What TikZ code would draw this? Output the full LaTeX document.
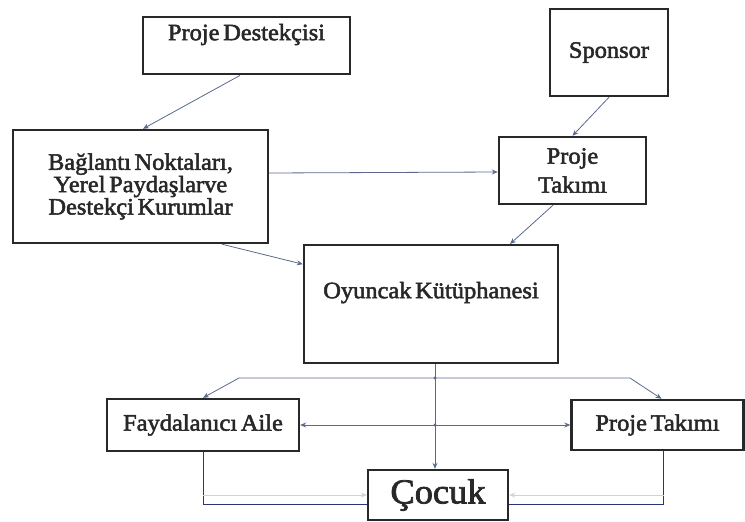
\documentclass[tikz,border=0pt]{standalone}
\usepackage{fontspec}
\setmainfont{Liberation Serif}[FakeStretch=1.04, FakeBold=2.2, WordSpace=0.6]
\usetikzlibrary{arrows.meta}
\definecolor{yazi}{RGB}{40,40,40}
\definecolor{cerceve}{RGB}{40,40,40}
\definecolor{akis}{RGB}{90,105,140}
\definecolor{lacivert}{RGB}{40,52,125}
\definecolor{acik}{RGB}{205,210,220}

\begin{document}
\begin{tikzpicture}[x=1pt, y=-1pt,
    kutu/.style={draw=cerceve, line width=2.4pt, fill=white, text=yazi,
                 font=\fontsize{23.5}{20.5}\selectfont, align=center, inner sep=0pt},
    ok/.style={draw=akis, line width=0.8pt, >={Stealth[length=6pt, width=5pt]}, ->}]
    \useasboundingbox (0,0) rectangle (745,522);

    % Üst kutular
    \node[kutu, minimum width=207pt, minimum height=57pt, text height=23pt,
          text depth=34pt, anchor=north] (destekci) at (246.5,16) {Proje Destekçisi};
    \node[kutu, minimum width=118pt, minimum height=87pt] (sponsor) at (609,52.5) {Sponsor};
    \node[kutu, minimum width=255pt, minimum height=113pt] (baglanti) at (140.5,186.5)
          {Bağlantı Noktaları,\\Yerel Paydaşlarve\\Destekçi Kurumlar};
    \node[kutu, minimum width=147pt, minimum height=67pt,
          font=\fontsize{23.5}{29}\selectfont] (ptakim) at (572.5,170.5) {Proje\\Takımı};

    % Kütüphane
    \node[kutu, minimum width=254pt, minimum height=118pt, text height=53pt,
          text depth=65pt, anchor=north] (oyuncak) at (431,244) {Oyuncak Kütüphanesi};

    % Alt kutular
    \node[kutu, minimum width=192pt, minimum height=52pt] (aile) at (203,425) {Faydalanıcı Aile};
    \node[kutu, minimum width=172pt, minimum height=50pt] (ptakim2) at (657.5,425) {Proje Takımı};
    \node[kutu, minimum width=140pt, minimum height=50pt,
          font=\fontsize{35}{38}\selectfont] (cocuk) at (438,495) {Çocuk};

    % Oklar
    \draw[ok] ([xshift=-6.5pt]destekci.south) -- ([xshift=2.5pt]baglanti.north);
    \draw[ok] (sponsor.south) -- (ptakim.north);
    \draw[ok] ([yshift=13.5pt]baglanti.east) -- ([yshift=-1.5pt]ptakim.west);
    \draw[ok] ([xshift=-19.5pt]ptakim.south) -- ([xshift=79pt]oyuncak.north);
    \draw[ok] ([xshift=81.5pt]baglanti.south) -- ([yshift=40pt]oyuncak.west);

    % Dağıtım hattı
    \coordinate (dik) at ([xshift=4pt]oyuncak.south);
    \coordinate (sol) at (239,378);
    \coordinate (sag) at (630,378);
    \draw[ok, <->] (aile.north) -- (sol) -- (sag) -- ([xshift=4pt]ptakim2.north);
    \draw[ok] (dik) -- (dik |- cocuk.north);
    \draw[ok, <->] (aile.east) -- (ptakim2.west);
    \fill[akis] (dik |- sol) circle (1.6pt);
    \fill[akis] (dik |- aile.east) circle (1.6pt);

    % Çocuğa bağlantılar
    \draw[lacivert, line width=0.9pt] (aile.south) |- ([yshift=-9pt]cocuk.west);
    \draw[ok, draw=acik] (aile.south |- cocuk.west) -- (cocuk.west);
    \draw[lacivert, line width=0.9pt] ([xshift=6pt]ptakim2.south) |- ([yshift=-9pt]cocuk.east);
    \draw[ok, draw=acik] ([xshift=6pt]ptakim2.south |- cocuk.east) -- (cocuk.east);
\end{tikzpicture}
\end{document}
